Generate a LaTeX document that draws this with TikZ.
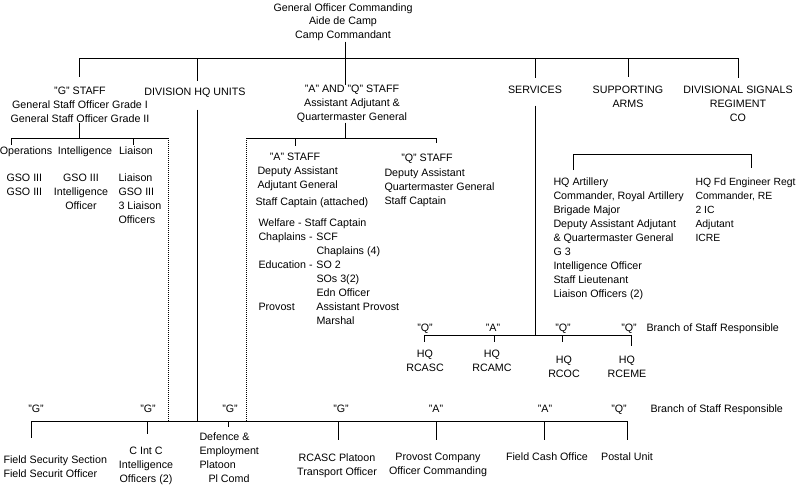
\documentclass[tikz,border=0pt]{standalone}
\usepackage{fontspec}
\setmainfont{Liberation Sans}
\newcommand\orgfnt{\fontsize{10.7}{14}\selectfont}
\begin{document}
\begin{tikzpicture}[x=1pt,y=-1pt,line width=1pt,
  every node/.style={inner sep=0pt,font=\orgfnt},
  ctr/.style={anchor=base,align=center},
  lft/.style={anchor=base west,align=left},
  dots/.style={dash pattern=on 1pt off 1pt}]
\useasboundingbox (0,0) rectangle (799,487);
% ---------- nodes (base = baseline of last line) ----------
\node[ctr] (goc) at (343,39) {General Officer Commanding\\Aide de Camp\\Camp Commandant};
\node[ctr] (gstaff) at (80,122) {"G" STAFF\\General Staff Officer Grade I\\General Staff Officer Grade II};
\node[ctr] (divhq) at (195,95) {DIVISION HQ UNITS};
\node[ctr] (aq) at (352,120) {"A" AND "Q" STAFF\\Assistant Adjutant \&\\Quartermaster General};
\node[ctr] (serv) at (535,93) {SERVICES};
\node[ctr] (supp) at (628,107) {SUPPORTING\\ARMS};
\node[ctr] (sig) at (738,121) {DIVISIONAL SIGNALS\\REGIMENT\\CO};
\node[ctr] (ops) at (26,154) {Operations};
\node[ctr] (int) at (85,154) {Intelligence};
\node[ctr] (liai) at (136,154) {Liaison};
\node[lft] (opsd) at (6,195) {GSO III\\GSO III};
\node[ctr] (intd) at (81,209) {GSO III\\Intelligence\\Officer};
\node[lft] (liaid) at (118,223) {Liaison\\GSO III\\3 Liaison\\Officers};
\node[ctr] (astaff) at (295,160) {"A" STAFF};
\node[lft] (astaffd) at (257,188) {Deputy Assistant\\Adjutant General};
\node[lft] (astaffc) at (255,205) {Staff Captain (attached)};
\node[anchor=base west] (abranch) at (258,226) {\begin{tabular}[t]{@{}p{58pt}@{}l@{}}
\multicolumn{2}{@{}l@{}}{Welfare - Staff Captain}\\
Chaplains - & SCF\\
 & Chaplains (4)\\
Education - & SO 2\\
 & SOs 3(2)\\
 & Edn Officer\\
Provost & Assistant Provost\\
 & Marshal\end{tabular}};
\node[ctr] (qstaff) at (427,161) {"Q" STAFF};
\node[lft] (qstaffd) at (384,204) {Deputy Assistant\\Quartermaster General\\Staff Captain};
\node[lft] (hqra) at (553,297) {HQ Artillery\\Commander, Royal Artillery\\Brigade Major\\Deputy Assistant Adjutant\\\& Quartermaster General\\G 3\\Intelligence Officer\\Staff Lieutenant\\Liaison Officers (2)};
\node[lft,font=\fontsize{10.4}{14}\selectfont] (hqre) at (695,241) {HQ Fd Engineer Regt\\Commander, RE\\2 IC\\Adjutant\\ICRE};
\node[ctr] (sq1) at (425,331) {"Q"};
\node[ctr] (sa1) at (493,331) {"A"};
\node[ctr] (sq2) at (563,331) {"Q"};
\node[ctr] (sq3) at (629,331) {"Q"};
\node[lft] (sbr) at (646,331) {Branch of Staff Responsible};
\node[ctr] (rcasc) at (425,371) {HQ\\RCASC};
\node[ctr] (rcamc) at (492,371) {HQ\\RCAMC};
\node[ctr] (rcoc) at (564,377) {HQ\\RCOC};
\node[ctr] (rceme) at (627,377) {HQ\\RCEME};
\node[ctr] (ug1) at (36,412) {"G"};
\node[ctr] (ug2) at (148,412) {"G"};
\node[ctr] (ug3) at (230,412) {"G"};
\node[ctr] (ug4) at (341,412) {"G"};
\node[ctr] (ua1) at (436,412) {"A"};
\node[ctr] (ua2) at (545,412) {"A"};
\node[ctr] (uq1) at (619,412) {"Q"};
\node[lft] (ubr) at (650,412) {Branch of Staff Responsible};
\node[lft] (fss) at (3,477) {Field Security Section\\Field Securit Officer};
\node[ctr] (cintc) at (146,482) {C Int C\\Intelligence\\Officers (2)};
\node[lft] (defpl) at (199,482) {Defence \&\\Employment\\Platoon\\\hspace*{9pt}Pl Comd};
\node[ctr] (rcascpl) at (337,475) {RCASC Platoon\\Transport Officer};
\node[ctr] (provco) at (438,474) {Provost Company\\Officer Commanding};
\node[ctr] (fco) at (547,460) {Field Cash Office};
\node[ctr] (postal) at (627,460) {Postal Unit};
% ---------- junctions ----------
\coordinate (t0) at (345,58);
\coordinate (t1) at (79,58);
\coordinate (t2) at (197,58);
\coordinate (t4) at (535,58);
\coordinate (t5) at (628,58);
\coordinate (t6) at (738,58);
\coordinate (g0) at (79,138);
\coordinate (gl) at (11,138);
\coordinate (gi) at (133,138);
\coordinate (gr) at (168,138);
\coordinate (a0) at (345,138);
\coordinate (al) at (246,138);
\coordinate (aa) at (295,138);
\coordinate (aq2) at (436,138);
\coordinate (s0) at (535,335);
\coordinate (s1) at (424,335);
\coordinate (s2) at (494,335);
\coordinate (s3) at (562,335);
\coordinate (s4) at (631,335);
\coordinate (u0) at (197,421);
\coordinate (u1) at (31,421);
\coordinate (u2) at (147,421);
\coordinate (u3) at (228,421);
\coordinate (u4) at (338,421);
\coordinate (u5) at (436,421);
\coordinate (u6) at (544,421);
\coordinate (u7) at (627,421);
\coordinate (ugr) at (168,421);
\coordinate (ual) at (246,421);
% ---------- connectors ----------
\draw (goc.south -| t0) -- (t0);
\draw (t1) -- (t6);
\draw (t1) -- ++(0,19);
\draw (t2) -- ++(0,23);
\draw (t0) -- ++(0,27);
\draw (t4) -- ++(0,20);
\draw (t5) -- ++(0,19);
\draw (t6) -- ++(0,20);
% G staff
\draw (gstaff.south -| g0) -- (g0);
\draw (gl) -- (gr);
\draw (gl) -- ++(0,7);
\draw (gi) -- ++(0,7);
\draw[dots] (gr) -- (ugr);
% Division HQ units
\draw (divhq.south -| t2) ++(0,12) -- (u0);
% A and Q staff
\draw (aq.south -| a0) -- (a0);
\draw (al) -- (aq2);
\draw (aa) -- ++(0,8);
\draw (aq2) -- ++(0,5);
\draw[dots] (al) -- (ual);
% Supporting arms box
\draw (573,170) -- (573,154) -- (751,154) -- (751,168);
% Services
\draw (serv.south -| t4) ++(0,12) -- (s0);
\draw (s1) -- (s4);
\draw (s1) -- ++(0,7);
\draw (s2) -- ++(0,7);
\draw (s3) -- ++(0,7);
\draw (s4) -- ++(0,11);
% bottom units
\draw (u1) -- (u7);
\draw (u1) -- ++(0,17);
\draw (u2) -- ++(0,13);
\draw (u3) -- ++(0,6);
\draw (u4) -- ++(0,19);
\draw (u5) -- ++(0,19);
\draw (u6) -- ++(0,19);
\draw (u7) -- ++(0,19);
\end{tikzpicture}
\end{document}
